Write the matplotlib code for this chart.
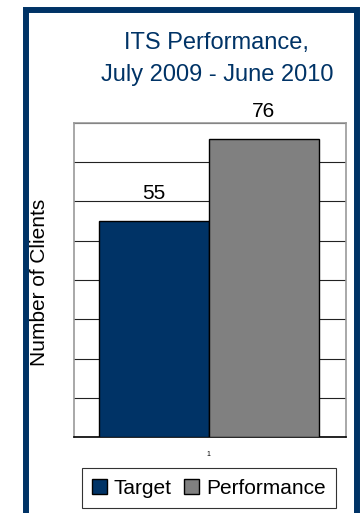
import matplotlib.pyplot as plt
from matplotlib.patches import Rectangle, Patch

# data
categories = ['Target', 'Performance']
values = [55, 76]
colors = ['#003366', '#808080']
navy = '#003366'

plt.rcParams['font.family'] = ['Liberation Sans', 'DejaVu Sans']

fig = plt.figure(figsize=[3.63, 5.13], dpi=100)
ax = fig.add_axes([74/363, 76/513, 272/363, 314/513])

# bars side by side around the single category "1"
xs = [0, 1]
bars = ax.bar(xs, values, width=1.0, color=colors, edgecolor='black', linewidth=1.0, zorder=3)
for x, v in zip(xs, values):
    ax.text(x, v + 4.5, str(v), ha='center', va='bottom', fontsize=15)

ax.set_xlim(-0.73, 1.75)
ax.set_ylim(0, 80)
ax.set_yticks(range(0, 81, 10))
ax.set_yticklabels([])
ax.tick_params(axis='y', length=0)
ax.set_xticks([0.5])
ax.set_xticklabels(['1'], fontsize=5)
ax.tick_params(axis='x', length=0, pad=10)
ax.yaxis.grid(True, color='#222222', linewidth=0.8, zorder=0)
for s in ['left', 'right', 'top']:
    ax.spines[s].set_color('#999999')
    ax.spines[s].set_linewidth(1.2)
ax.spines['bottom'].set_color('black')
ax.spines['bottom'].set_linewidth(1.2)

# title and y label
fig.text(216/363, 1 - 43/513, 'ITS Performance,', ha='center', va='center', fontsize=17, color=navy)
fig.text(217/363, 1 - 75/513, 'July 2009 - June 2010', ha='center', va='center', fontsize=17, color=navy)
fig.text(40/363, 1 - 282/513, 'Number of Clients', ha='center', va='center', rotation=90, fontsize=15)

# legend
handles = [Patch(facecolor=c, edgecolor='black', linewidth=1.0) for c in colors]
leg = fig.legend(handles, categories, loc='center', bbox_to_anchor=(209/363, 1 - 488/513),
                 ncol=2, fontsize=15, frameon=True, fancybox=False, handlelength=0.7,
                 handleheight=0.7, handletextpad=0.35, columnspacing=0.6, borderpad=0.5)
leg.get_frame().set_edgecolor('black')
leg.get_frame().set_linewidth(0.8)

# navy frame around the whole chart
fig.patches.append(Rectangle((26/363, -0.05), 331/363, 1.05 - 10/513, transform=fig.transFigure,
                             fill=False, edgecolor=navy, linewidth=4.3, clip_on=False))

fig.savefig('out.png', dpi=100)
